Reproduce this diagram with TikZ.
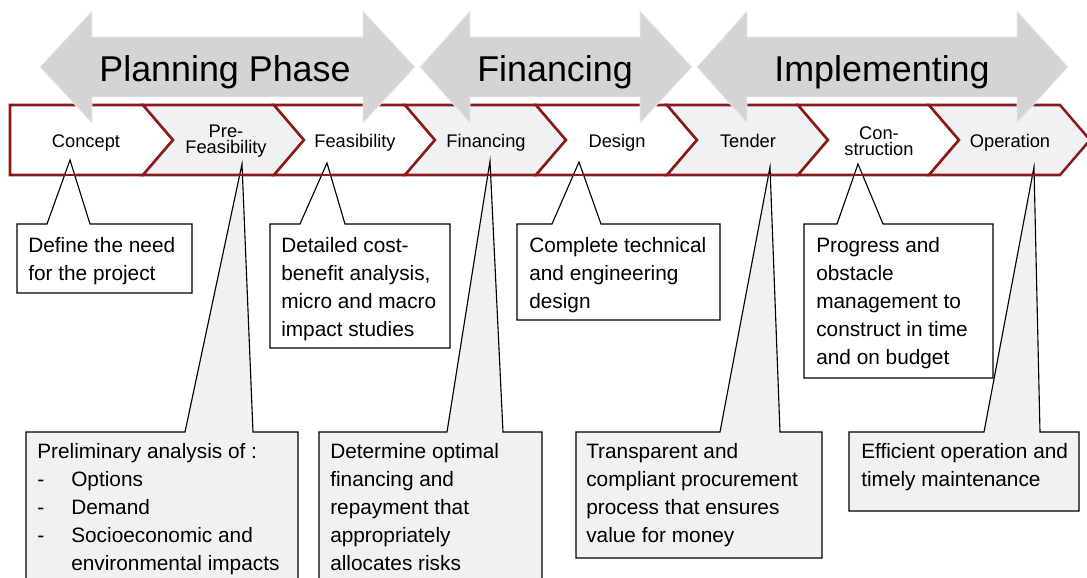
\documentclass[tikz,border=0pt]{standalone}
\usepackage{fontspec}
\setmainfont{Liberation Sans}
\usepackage{xcolor}
\usepackage{tikz}

\definecolor{bandred}{RGB}{140,26,26}
\definecolor{panel}{RGB}{239,241,243}
\definecolor{phasegray}{RGB}{212,212,212}
\newcommand{\listdash}{\makebox[0.85cm][l]{-}}

\begin{document}
\begin{tikzpicture}[
		x=0.025cm, y=-0.025cm,
		band/.style={draw=bandred, line width=1.8pt, line join=miter},
		phase/.style={fill=phasegray, draw=gray!15, line width=0.6pt},
		phaselabel/.style={inner sep=0, anchor=base, font=\fontsize{25.5}{30}\selectfont},
		stage/.style={inner sep=0, align=center, font=\fontsize{13}{11.5}\selectfont},
		note/.style={draw=black, line width=0.8pt, line join=miter},
		notetext/.style={inner sep=0, anchor=north west, align=left, font=\fontsize{14.8}{19.9}\selectfont}]

	\useasboundingbox (0,0) rectangle (1087,578);

	% stage band
	\draw[band, fill=white] (10,105) -- (143,105) -- (173,140) -- (143,175) -- (10,175) -- cycle;
	\foreach \i/\c in {1/panel, 2/white, 3/panel, 4/white, 5/panel, 6/white, 7/panel} {
		\pgfmathsetmacro\xl{12+131*\i}
		\pgfmathsetmacro\xr{\xl+131}
		\draw[band, fill=\c] (\xl,105) -- (\xr,105) -- (\xr+30,140) -- (\xr,175)
			-- (\xl,175) -- (\xl+30,140) -- cycle;
	}

	% phase arrows
	\draw[phase] (40,67) -- (92,11) -- (92,37) -- (363,37) -- (363,11) -- (415,67)
		-- (363,123) -- (363,97) -- (92,97) -- (92,123) -- cycle;
	\draw[phase] (420,67) -- (470,11) -- (470,37) -- (640,37) -- (640,11) -- (692,67)
		-- (640,123) -- (640,97) -- (470,97) -- (470,123) -- cycle;
	\draw[phase] (697,67) -- (747,11) -- (747,37) -- (1017,37) -- (1017,11) -- (1068,67)
		-- (1017,123) -- (1017,97) -- (747,97) -- (747,123) -- cycle;

	\node[phaselabel] (planning) at (225,82) {Planning Phase};
	\node[phaselabel] (financing_phase) at (555,82) {Financing};
	\node[phaselabel] (implementing) at (882,82) {Implementing};

	% stages
	\node[stage, anchor=base] (concept) at (86,147) {Concept};
	\node[stage] (prefeasibility) at (226,141) {Pre-\\Feasibility};
	\node[stage, anchor=base] (feasibility) at (355,147) {Feasibility};
	\node[stage, anchor=base] (financing) at (486,147) {Financing};
	\node[stage, anchor=base] (design) at (617,147) {Design};
	\node[stage, anchor=base] (tender) at (748,147) {Tender};
	\node[stage] (construction) at (879,141) {Con-\\struction};
	\node[stage, anchor=base] (operation) at (1010,147) {Operation};

	% callout tips
	\coordinate (concept_tip) at (70,160);
	\coordinate (prefeasibility_tip) at (242,164);
	\coordinate (feasibility_tip) at (327,163);
	\coordinate (financing_tip) at (490,161);
	\coordinate (design_tip) at (579,162);
	\coordinate (tender_tip) at (770,167);
	\coordinate (construction_tip) at (858,164);
	\coordinate (operation_tip) at (1034,167);

	% upper callouts
	\draw[note, fill=white] (17,224) -- (47,224) -- (concept_tip) -- (90,224) -- (192,224)
		-- (192,293) -- (17,293) -- cycle;
	\draw[note, fill=white] (270,224) -- (300,224) -- (feasibility_tip) -- (345,224) -- (450,224)
		-- (450,348) -- (270,348) -- cycle;
	\draw[note, fill=white] (517,224) -- (552,224) -- (design_tip) -- (601,224) -- (720,224)
		-- (720,320) -- (517,320) -- cycle;
	\draw[note, fill=white] (804,224) -- (837,224) -- (construction_tip) -- (883,224) -- (993,224)
		-- (993,378) -- (804,378) -- cycle;

	% lower callouts
	\draw[note, fill=panel] (26,432) -- (185,432) -- (prefeasibility_tip) -- (253,432) -- (298,432)
		-- (298,600) -- (26,600) -- cycle;
	\draw[note, fill=panel] (319,432) -- (447,432) -- (financing_tip) -- (503,432) -- (542,432)
		-- (542,600) -- (319,600) -- cycle;
	\draw[note, fill=panel] (576,432) -- (720,432) -- (tender_tip) -- (780,432) -- (822,432)
		-- (822,558) -- (576,558) -- cycle;
	\draw[note, fill=panel] (849,432) -- (984,432) -- (operation_tip) -- (1040,432) -- (1079,432)
		-- (1079,511) -- (849,511) -- cycle;

	% band edge runs over the callout tips
	\draw[band] (10,175) -- (1060,175);

	% callout texts
	\node[notetext] (need) at (28,237) {Define the need\\for the project};
	\node[notetext] (costbenefit) at (281,237) {Detailed cost-\\benefit analysis,\\micro and macro\\impact studies};
	\node[notetext] (engineering) at (529,237) {Complete technical\\and engineering\\design};
	\node[notetext] (progress) at (816,237) {Progress and\\obstacle\\management to\\construct in time\\and on budget};
	\node[notetext] (preliminary) at (37,443) {Preliminary analysis of :\\
		\listdash Options\\\listdash Demand\\\listdash Socioeconomic and\\
		\hspace*{0.85cm}environmental impacts};
	\node[notetext] (repayment) at (330,443) {Determine optimal\\financing and\\repayment that\\appropriately\\allocates risks};
	\node[notetext] (procurement) at (586,443) {Transparent and\\compliant procurement\\process that ensures\\value for money};
	\node[notetext] (maintenance) at (861,443) {Efficient operation and\\timely maintenance};

\end{tikzpicture}
\end{document}
